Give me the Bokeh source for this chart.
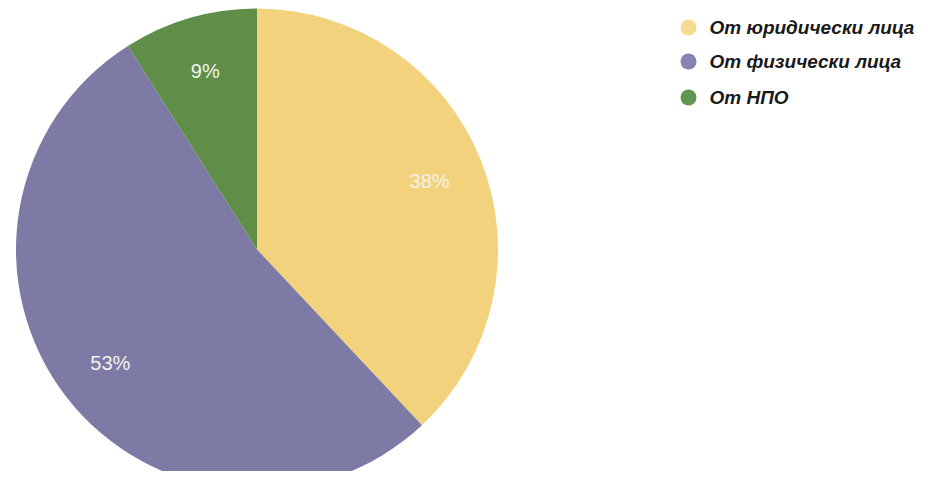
import numpy as np
from bokeh.plotting import figure
from bokeh.models import Range1d, ColumnDataSource
from bokeh.core.properties import value
from bokeh.embed import file_html
from bokeh.resources import INLINE

# Data
categories = ["От юридически лица", "От физически лица", "От НПО"]
shares = [38, 53, 9]
labels = ["38%", "53%", "9%"]
colors = ["#F2D27C", "#7D7BA6", "#5E8E47"]
legend_colors = ["#F5DC92", "#8583B0", "#609650"]

W, H = 920, 471
p = figure(width=W, height=H, output_backend="svg", toolbar_location=None,
           x_range=Range1d(0, 920), y_range=Range1d(16, 487),
           min_border=0, outline_line_color=None)
p.axis.visible = False
p.grid.visible = False
p.background_fill_color = "white"
p.border_fill_color = "white"

# pie geometry (data y = 487 - page_y)
cx, cy, r = 256.5, 487 - 249, 241

fr = np.array(shares, dtype=float) / sum(shares)
cum = np.concatenate([[0], np.cumsum(fr)])
# clockwise from 12 o'clock
ends = np.pi / 2 - cum[:-1] * 2 * np.pi
starts = np.pi / 2 - cum[1:] * 2 * np.pi
mids = (starts + ends) / 2

src = ColumnDataSource(dict(start=starts, end=ends, color=colors))
p.wedge(x=cx, y=cy, radius=r, start_angle="start", end_angle="end",
        fill_color="color", line_color=None, source=src)

lr = 0.77 * r
lsrc = ColumnDataSource(dict(x=cx + lr * np.cos(mids), y=cy + lr * np.sin(mids), t=labels))
p.text(x="x", y="y", text="t", source=lsrc, text_align="center", text_baseline="middle",
       text_color="#F4F2EC", text_font=value("Liberation Sans"), text_font_size="20px")

# legend
ly = [487 - 27, 487 - 61, 487 - 97]
gsrc = ColumnDataSource(dict(x=[688] * 3, y=ly, c=legend_colors, t=categories, tx=[709] * 3))
p.scatter(x="x", y="y", size=16, fill_color="c", line_color=None, source=gsrc)
p.text(x="tx", y="y", text="t", source=gsrc, text_align="left", text_baseline="middle",
       text_color="#1A1A1A", text_font=value("Liberation Sans"), text_font_size="19px",
       text_font_style="bold italic")

open("out.html", "w").write(file_html(p, INLINE))
